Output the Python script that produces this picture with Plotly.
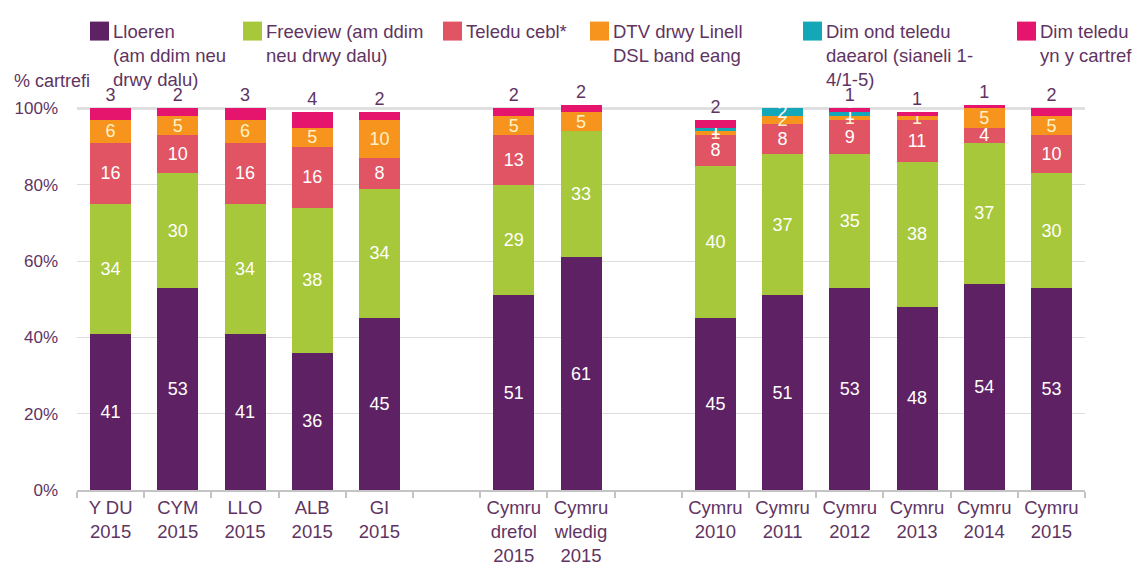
import plotly.graph_objects as go

categories = ["Y DU<br>2015", "CYM<br>2015", "LLO<br>2015", "ALB<br>2015", "GI<br>2015", " ",
              "Cymru<br>drefol<br>2015", "Cymru<br>wledig<br>2015", "  ",
              "Cymru<br>2010", "Cymru<br>2011", "Cymru<br>2012", "Cymru<br>2013", "Cymru<br>2014", "Cymru<br>2015"]

series_names = ["Lloeren<br>(am ddim neu<br>drwy dalu)",
                "Freeview (am ddim<br>neu drwy dalu)",
                "Teledu cebl*",
                "DTV drwy Linell<br>DSL band eang",
                "Dim ond teledu<br>daearol (sianeli 1-<br>4/1-5)",
                "Dim teledu<br>yn y cartref"]

lloeren   = [41, 53, 41, 36, 45, None, 51, 61, None, 45, 51, 53, 48, 54, 53]
freeview  = [34, 30, 34, 38, 34, None, 29, 33, None, 40, 37, 35, 38, 37, 30]
cebl      = [16, 10, 16, 16, 8, None, 13, 0, None, 8, 8, 9, 11, 4, 10]
dtv       = [6, 5, 6, 5, 10, None, 5, 5, None, 1, 2, 1, 1, 5, 5]
daearol   = [0, 0, 0, 0, 0, None, 0, 0, None, 1, 2, 1, 0, 0, 0]
dim_tv    = [3, 2, 3, 4, 2, None, 2, 2, None, 2, 0, 1, 1, 1, 2]

series_values = [lloeren, freeview, cebl, dtv, daearol, dim_tv]
colors = ["#5E2163", "#A6C83A", "#E05463", "#F7941E", "#14A7B8", "#E5146D"]
label_colors = ["white", "white", "white", "#FFF2C8", "white", "#5F3462"]

TXT = "#5F3462"
FONT = "Liberation Sans, Arial, sans-serif"

# page has an 8px body margin, so the figure is drawn 8px in from the top-left
OFF = 8
W, H = 1143 - OFF, 562 - OFF
L, R, T, B = 69, 58, 88.5, 72
PW, PH = W - L - R, H - T - B


def px_x(px):
    return (px - OFF - L) / PW


def px_y(py):
    return (H - B - (py - OFF)) / PH


fig = go.Figure()
for name, vals, col, lc in zip(series_names, series_values, colors, label_colors):
    is_top = name.startswith("Dim teledu")
    text = ["" if (v is None or v == 0) else str(v) for v in vals]
    fig.add_trace(go.Bar(
        x=categories, y=vals, name=name, marker=dict(color=col, line=dict(width=0)),
        text=text, textposition="outside" if is_top else "inside",
        insidetextanchor="middle", constraintext="none", textangle=0,
        textfont=dict(color=lc, size=18, family=FONT),
        cliponaxis=False, hoverinfo="skip", showlegend=False,
    ))

fig.update_layout(
    width=W, height=H,
    barmode="stack", bargap=0.39,
    plot_bgcolor="white", paper_bgcolor="white",
    margin=dict(l=L, r=R, t=T, b=B, autoexpand=False),
    font=dict(family=FONT, size=18, color=TXT),
    showlegend=False,
    xaxis=dict(type="category", categoryorder="array", categoryarray=categories,
               showline=True, linecolor="#C4C4C4", linewidth=2,
               ticks="outside", tickson="boundaries", ticklen=6, tickcolor="#C4C4C4", tickwidth=2,
               tickfont=dict(size=18.5, color=TXT, family=FONT), showgrid=False, fixedrange=True),
    yaxis=dict(range=[0, 103], tickvals=[0, 20, 40, 60, 80, 100],
               ticktext=["0%", "20%", "40%", "60%", "80%", "100%"],
               showgrid=True, gridcolor="#DDDDDD", gridwidth=1,
               zeroline=False, showline=False, ticks="", ticklabelstandoff=18,
               tickfont=dict(size=17, color=TXT, family=FONT), fixedrange=True),
)

fig.add_shape(type="line", xref="paper", yref="y", x0=0, x1=1, y0=100, y1=100,
              line=dict(color="#C4C4C4", width=2), layer="below")

# legend drawn as swatches + real text
sw_left = [90, 243, 443, 590, 803, 1017]
for name, col, sx in zip(series_names, colors, sw_left):
    fig.add_shape(type="rect", xref="paper", yref="paper",
                  x0=px_x(sx), x1=px_x(sx + 19), y0=px_y(40), y1=px_y(21),
                  fillcolor=col, line=dict(width=0), layer="above")
    fig.add_annotation(text=name, xref="paper", yref="paper", x=px_x(sx + 21), y=px_y(18),
                       xanchor="left", yanchor="top", align="left", showarrow=False,
                       font=dict(size=18.5, color=TXT, family=FONT))

fig.add_annotation(text="% cartrefi", xref="paper", yref="paper", x=px_x(12), y=px_y(68),
                   xanchor="left", yanchor="top", showarrow=False,
                   font=dict(size=18, color=TXT, family=FONT))

fig.write_html("out.html")
